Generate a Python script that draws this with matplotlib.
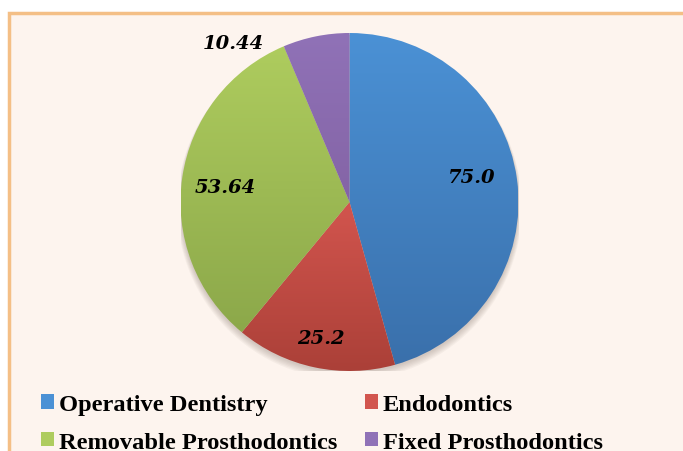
import numpy as np
import matplotlib
matplotlib.use('Agg')
import matplotlib.pyplot as plt
from matplotlib.patches import Rectangle, Patch
from matplotlib.colors import LinearSegmentedColormap


# departments and their values
categories = ['Operative Dentistry', 'Endodontics', 'Removable Prosthodontics', 'Fixed Prosthodontics']
values = [75.0, 25.2, 53.64, 10.44]
value_labels = ['75.0', '25.2', '53.64', '10.44']

# top / bottom shade of each slice (slices have a soft vertical gradient)
top_colors = ['#4b91d5', '#d2554e', '#aecc5e', '#9072b7']
bottom_colors = ['#3a70ab', '#ab4038', '#8ca84a', '#8464a6']

W, H = 683, 452
fig = plt.figure(figsize=(W / 100, H / 100), dpi=100)
fig.patch.set_facecolor('white')

# peach panel with orange border (runs off the right and bottom edge)
fig.patches.append(Rectangle((9 / W, -0.05), 1.0, 1.05 - 14 / H, transform=fig.transFigure,
                             fc='#fdf4ee', ec='#f4bf86', lw=2.5, zorder=-5))

# pie axes: centre (349, 203), radius ~169 px
cx, cy, r = 349.5, 203, 169
ax = fig.add_axes([(cx - r) / W, 1 - (cy + r) / H, 2 * r / W, 2 * r / H])
ax.set_zorder(2)
ax.patch.set_alpha(0)

# soft shadow under the pie
for k in range(6):
    ax.add_patch(plt.Circle((0.0, -0.012 - 0.004 * k), 1.0 + 0.004 * k, color='#7a6a60',
                            alpha=0.06, lw=0, zorder=0))

wedges, _ = ax.pie(values, startangle=90, counterclock=False, radius=1.0,
                   wedgeprops=dict(fc='none', ec='none'))

for w, c0, c1 in zip(wedges, top_colors, bottom_colors):
    ext = w.get_path().get_extents()
    cmap = LinearSegmentedColormap.from_list('g', [c1, c0])
    grad = np.linspace(0, 1, 256).reshape(-1, 1)
    im = ax.imshow(grad, cmap=cmap, origin='lower', aspect='auto',
                   extent=[ext.x0, ext.x1, ext.y0, ext.y1], zorder=1)
    im.set_clip_path(w)
ax.set_xlim(-1.0, 1.0)
ax.set_ylim(-1.0, 1.0)
ax.set_aspect('equal')
ax.axis('off')

# value labels (the small slice's label sits outside, up-left)
label_r = [0.73, 0.81, 0.74, None]
label_dy = [0.05, -0.01, -0.02, 0.0]
for w, txt, rr, dy in zip(wedges, value_labels, label_r, label_dy):
    mid = np.deg2rad((w.theta1 + w.theta2) / 2)
    if rr is None:
        x, y = -0.69, 0.94
    else:
        x, y = rr * np.cos(mid), rr * np.sin(mid) + dy
    ax.text(x, y, txt, ha='center', va='center', fontsize=14, fontweight='bold',
            fontstyle='italic', family='DejaVu Serif', color='black', zorder=3)

# legend, filled row by row (second row runs off the bottom like the original)
order = [0, 2, 1, 3]
handles = [Patch(fc=top_colors[i], ec='none') for i in order]
fig.legend(handles, [categories[i] for i in order], ncol=2, loc='upper left',
           bbox_to_anchor=(41 / W, 1 - 395 / H), frameon=False,
           prop=dict(family='Liberation Serif', weight='bold', size=17.6),
           handlelength=0.55, handleheight=0.55, handletextpad=0.2,
           columnspacing=1.1, labelspacing=0.68, borderpad=0, borderaxespad=0)

fig.savefig('out.png', dpi=100, facecolor=fig.get_facecolor())
